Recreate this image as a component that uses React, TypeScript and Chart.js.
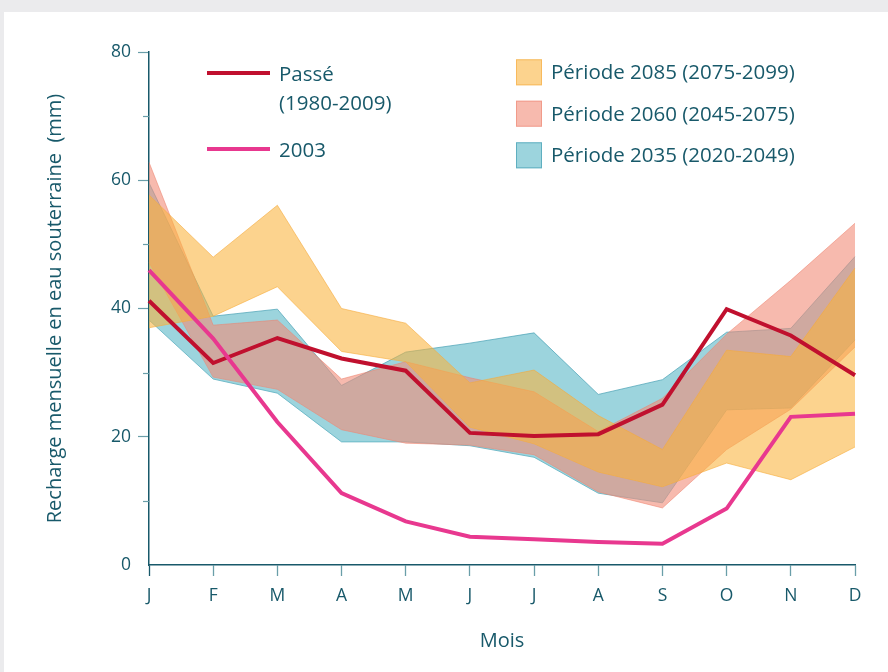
import React, { useEffect, useRef } from 'react';
import { Chart, registerables } from 'chart.js';
Chart.register(...registerables);

const months = ['J', 'F', 'M', 'A', 'M', 'J', 'J', 'A', 'S', 'O', 'N', 'D'];
const past = [41.2, 31.5, 35.4, 32.2, 30.3, 20.6, 20.1, 20.4, 25.0, 39.9, 35.8, 29.6];
const y2003 = [46.0, 35.3, 22.3, 11.2, 6.8, 4.4, 4.0, 3.6, 3.3, 8.8, 23.1, 23.6];
const p2085Upper = [57.7, 48.0, 56.1, 40.0, 37.7, 28.4, 30.4, 23.3, 18.0, 33.5, 32.5, 46.3];
const p2085Lower = [37.0, 38.8, 43.4, 33.3, 31.7, 21.5, 18.9, 14.5, 12.2, 15.9, 13.3, 18.4];
const p2060Upper = [62.8, 37.4, 38.2, 29.0, 31.7, 29.2, 27.0, 20.8, 26.0, 36.0, 44.4, 53.3];
const p2060Lower = [47.2, 29.3, 27.4, 21.1, 19.0, 18.7, 17.2, 11.4, 8.9, 18.0, 24.3, 34.0];
const p2035Upper = [59.6, 38.8, 39.9, 28.0, 33.2, 34.6, 36.2, 26.6, 28.9, 36.3, 36.9, 48.1];
const p2035Lower = [38.2, 29.0, 26.8, 19.2, 19.2, 18.6, 16.8, 11.2, 9.7, 24.2, 24.5, 35.1];
const majorTicks = [20, 40, 60, 80];
const minorTicks = [10, 30, 50, 70];
const lineLegend = [['Passé', '(1980-2009)'], ['2003']];
const bandLegend = ['Période 2085 (2075-2099)', 'Période 2060 (2045-2075)', 'Période 2035 (2020-2049)'];
const yTitle = 'Recharge mensuelle en eau souterraine  (mm)';
const xTitle = 'Mois';

const TEAL = '#18596a';
const TICK = '#6a9ea9';
const FONT = "'Open Sans', sans-serif";
const PAST_C = '#c0102e';
const C2003 = '#e8388f';
const YEL = 'rgba(250,180,60,0.58)';
const YEL_B = 'rgba(245,170,60,0.6)';
const SAL = 'rgba(242,140,120,0.6)';
const SAL_B = 'rgba(236,130,110,0.55)';
const BLU = 'rgba(95,185,200,0.62)';
const BLU_B = 'rgba(70,160,180,0.7)';

const legendPlugin = {
  id: 'customLegend',
  afterDraw(chart: any) {
    const ctx = chart.ctx;
    const ys = chart.scales.y;
    const area = chart.chartArea;
    ctx.save();
    ctx.strokeStyle = TICK;
    ctx.lineWidth = 1.2;
    minorTicks.forEach((v) => {
      const py = Math.round(ys.getPixelForValue(v)) + 0.5;
      ctx.beginPath();
      ctx.moveTo(area.left - 6, py);
      ctx.lineTo(area.left, py);
      ctx.stroke();
    });
    const lineColors = [PAST_C, C2003];
    const lineY = [61, 137];
    ctx.font = `20.5px ${FONT}`;
    ctx.textBaseline = 'middle';
    ctx.textAlign = 'left';
    lineLegend.forEach((lab, i) => {
      ctx.strokeStyle = lineColors[i];
      ctx.lineWidth = 4;
      ctx.beginPath();
      ctx.moveTo(203, lineY[i]);
      ctx.lineTo(266, lineY[i]);
      ctx.stroke();
      ctx.fillStyle = TEAL;
      lab.forEach((t, j) => ctx.fillText(t, 275, lineY[i] + 2 + j * 29));
    });
    const fills = [YEL, SAL, BLU];
    const borders = [YEL_B, SAL_B, BLU_B];
    const tops = [47.3, 88.7, 130.3];
    bandLegend.forEach((t, i) => {
      ctx.fillStyle = '#ffffff';
      ctx.fillRect(512, tops[i], 26, 26);
      ctx.fillStyle = fills[i];
      ctx.fillRect(512, tops[i], 26, 26);
      ctx.strokeStyle = borders[i];
      ctx.lineWidth = 1;
      ctx.strokeRect(512.5, tops[i] + 0.5, 25, 25);
      ctx.fillStyle = TEAL;
      ctx.fillText(t, 547, tops[i] + 14);
    });
    ctx.restore();
  },
};

export default function App() {
  const ref = useRef<HTMLCanvasElement>(null);
  useEffect(() => {
    if (!ref.current) return;
    const band = (data: number[], fill: any, bg: string, border: string, order: number) => ({
      data,
      fill,
      backgroundColor: bg,
      borderColor: border,
      borderWidth: 1,
      pointRadius: 0,
      tension: 0,
      order,
    });
    const chart = new Chart(ref.current, {
      type: 'line',
      data: {
        labels: months,
        datasets: [
          { data: y2003, borderColor: C2003, borderWidth: 4, pointRadius: 0, fill: false, order: 0 },
          { data: past, borderColor: PAST_C, borderWidth: 4, pointRadius: 0, fill: false, order: 0 },
          band(p2085Upper, '+1', YEL, YEL_B, 1),
          band(p2085Lower, false, 'transparent', YEL_B, 1),
          band(p2060Upper, '+1', SAL, SAL_B, 2),
          band(p2060Lower, false, 'transparent', SAL_B, 2),
          band(p2035Upper, '+1', BLU, BLU_B, 3),
          band(p2035Lower, false, 'transparent', BLU_B, 3),
        ] as any,
      },
      options: {
        animation: false,
        responsive: false,
        devicePixelRatio: 1,
        layout: { padding: { top: 40, right: 33, left: 0, bottom: 0 } },
        plugins: { legend: { display: false }, tooltip: { enabled: false } },
        scales: {
          x: {
            type: 'category',
            offset: false,
            afterFit: (s: any) => { s.height = 107; },
            grid: {
              offset: false,
              drawOnChartArea: false,
              drawTicks: true,
              tickLength: 11,
              tickColor: (c: any) => (c.index === 0 ? TEAL : TICK),
              tickWidth: 1.3,
            },
            border: { display: true, color: TEAL, width: 1.5 },
            ticks: { color: TEAL, font: { family: FONT, size: 17.5 }, padding: 10, maxRotation: 0, autoSkip: false },
            title: { display: true, text: xTitle, color: TEAL, font: { family: FONT, size: 20 }, padding: { top: 0, bottom: 19 } },
          },
          y: {
            min: 0,
            max: 80,
            afterFit: (s: any) => { s.width = 145; },
            afterBuildTicks: (s: any) => { s.ticks = [0, ...majorTicks].map((v) => ({ value: v })); },
            grid: {
              drawOnChartArea: false,
              drawTicks: true,
              tickLength: 11,
              tickColor: (c: any) => (c.tick && c.tick.value !== 0 ? TICK : 'rgba(0,0,0,0)'),
              tickWidth: 1.2,
            },
            border: { display: true, color: TEAL, width: 1.5 },
            ticks: { color: TEAL, font: { family: FONT, size: 17.5 }, padding: 7, callback: (v: any) => String(v) },
            title: { display: true, text: yTitle, color: TEAL, font: { family: FONT, size: 20 }, padding: { top: 39, bottom: 0 } },
          },
        },
      },
      plugins: [legendPlugin],
    });
    return () => chart.destroy();
  }, []);
  return (
    <div style={{ position: 'fixed', left: 0, top: 0, width: 888, height: 672, background: '#ebebed' }}>
      <div style={{ position: 'absolute', left: 4, top: 12, width: 884, height: 660, background: '#ffffff' }}>
        <canvas ref={ref} width={884} height={660} style={{ display: 'block', width: 884, height: 660 }} />
      </div>
    </div>
  );
}
